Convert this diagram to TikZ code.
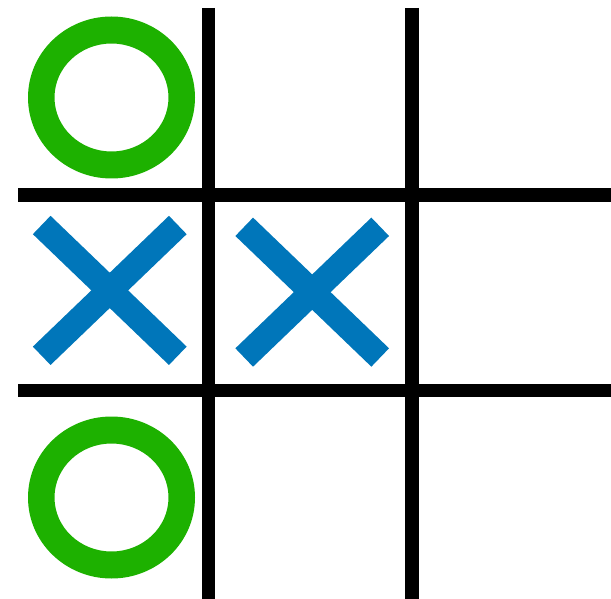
\documentclass[tikz,border=0pt]{standalone}
\definecolor{ogreen}{RGB}{29,177,0}
\definecolor{xblue}{RGB}{0,118,186}
\tikzset{
  gridline/.style={line width=6.6pt, black},
  xmark/.style={line width=12.75pt, xblue},
  omark/.style={fill=ogreen, even odd rule}
}
\begin{document}
\begin{tikzpicture}[x=0.5pt,y=-0.5pt]
\useasboundingbox (0,0) rectangle (611,599);
% grid
\draw[gridline] (208.5,8) -- (208.5,598.5);
\draw[gridline] (412,8) -- (412,598.5);
\draw[gridline] (18,195) -- (611,195);
\draw[gridline] (18,390.7) -- (611,390.7);
% O marks
\fill[omark] (111.5,97.5) ellipse [x radius=41.75pt, y radius=40.5pt]
             (111.5,97.5) ellipse [x radius=28.5pt, y radius=27pt];
\fill[omark] (111.5,497.5) ellipse [x radius=41.75pt, y radius=40.5pt]
             (111.5,497.5) ellipse [x radius=28.5pt, y radius=27pt];
% X marks
\draw[xmark] (41.7,225) -- (177.8,355.8);
\draw[xmark] (41.7,355.8) -- (177.8,225);
\draw[xmark] (244.2,226.8) -- (380.2,357.5);
\draw[xmark] (244.2,357.5) -- (380.2,226.8);
\end{tikzpicture}
\end{document}
